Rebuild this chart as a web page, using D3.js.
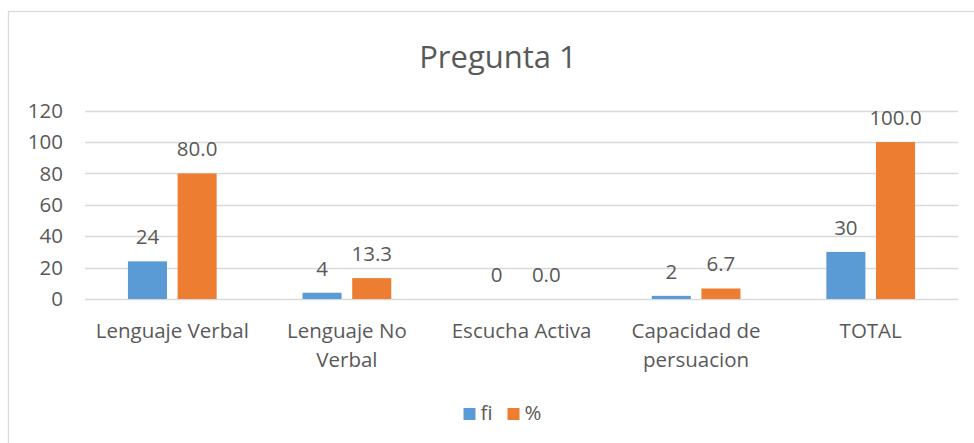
<!DOCTYPE html>
<html lang="es">
<head>
<meta charset="utf-8">
<title>Pregunta 1</title>
<script src="https://cdn.jsdelivr.net/npm/d3@7"></script>
<style>
  body { margin: 0; background: #fff; }
  text { font-family: "Open Sans", "Noto Sans", sans-serif; fill: #595959; }
</style>
</head>
<body>
<script>
// data
var categories = [["Lenguaje Verbal"], ["Lenguaje No", "Verbal"], ["Escucha Activa"], ["Capacidad de", "persuacion"], ["TOTAL"]];
var seriesNames = ["fi", "%"];
var fiValues = [24, 4, 0, 2, 30];
var pctValues = [80.0, 13.3, 0.0, 6.7, 100.0];
var yTicks = [0, 20, 40, 60, 80, 100, 120];
var colors = ["#5B9BD5", "#ED7D31"];

var w = 974, h = 443;
var plotLeft = 85, plotRight = 958, plotTop = 110.7, plotBottom = 299;
var fontSize = "20.5px";

var svg = d3.select("body").append("svg")
    .attr("width", w)
    .attr("height", h);

// chart frame
svg.append("rect")
    .attr("x", 8.5).attr("y", 11.5)
    .attr("width", w).attr("height", h)
    .attr("fill", "none")
    .attr("stroke", "#D9D9D9")
    .attr("stroke-width", 1.3);

// title
svg.append("text")
    .attr("x", 498).attr("y", 68)
    .attr("text-anchor", "middle")
    .style("font-size", "31px")
    .text("Pregunta 1");

var y = d3.scaleLinear().domain([0, 120]).range([plotBottom, plotTop]);
var x0 = d3.scaleBand().domain(d3.range(categories.length)).range([plotLeft, plotRight]).padding(0);
var bw = x0.bandwidth();
var x1 = d3.scaleBand().domain(seriesNames).range([bw * 0.246, bw * 0.754]).paddingInner(0.214);

// gridlines
svg.append("g").selectAll("line")
    .data(yTicks)
    .enter().append("line")
    .attr("x1", plotLeft).attr("x2", plotRight)
    .attr("y1", function(d) { return Math.round(y(d)) + 0.5; })
    .attr("y2", function(d) { return Math.round(y(d)) + 0.5; })
    .attr("stroke", "#D9D9D9")
    .attr("stroke-width", 1.3);

// y axis labels
var yAxis = d3.axisLeft(y).tickValues(yTicks).tickSize(0).tickPadding(0);
var yg = svg.append("g")
    .attr("transform", "translate(63,0)")
    .call(yAxis);
yg.select(".domain").remove();
yg.selectAll("text")
    .style("font-size", fontSize)
    .style("font-family", "'Open Sans', sans-serif")
    .attr("fill", "#595959");

// bars
var groups = svg.append("g").selectAll("g")
    .data(categories)
    .enter().append("g")
    .attr("transform", function(d, i) { return "translate(" + x0(i) + ",0)"; });

var seriesData = [fiValues, pctValues];

groups.selectAll("rect")
    .data(function(d, i) { return seriesNames.map(function(s, j) { return { s: s, j: j, v: seriesData[j][i] }; }); })
    .enter().append("rect")
    .attr("x", function(d) { return x1(d.s); })
    .attr("width", x1.bandwidth())
    .attr("y", function(d) { return y(d.v); })
    .attr("height", function(d) { return y(0) - y(d.v); })
    .attr("fill", function(d) { return colors[d.j]; });

// value labels
groups.selectAll("text.val")
    .data(function(d, i) { return seriesNames.map(function(s, j) { return { s: s, j: j, v: seriesData[j][i] }; }); })
    .enter().append("text")
    .attr("class", "val")
    .attr("x", function(d) { return x1(d.s) + x1.bandwidth() / 2; })
    .attr("y", function(d) { return y(d.v) - 17; })
    .attr("text-anchor", "middle")
    .style("font-size", fontSize)
    .text(function(d) { return d.j === 0 ? d3.format("d")(d.v) : d3.format(".1f")(d.v); });

// category labels
groups.append("text")
    .attr("x", bw / 2)
    .attr("y", 337.5)
    .attr("text-anchor", "middle")
    .style("font-size", fontSize)
    .selectAll("tspan")
    .data(function(d) { return d; })
    .enter().append("tspan")
    .attr("x", bw / 2)
    .attr("dy", function(d, i) { return i === 0 ? 0 : 29.4; })
    .text(function(d) { return d; });

// legend
var legendX = [463.5, 507.5];
var legend = svg.append("g").selectAll("g")
    .data(seriesNames)
    .enter().append("g")
    .attr("transform", function(d, i) { return "translate(" + legendX[i] + ",408)"; });
legend.append("rect")
    .attr("width", 12).attr("height", 12)
    .attr("fill", function(d, i) { return colors[i]; });
legend.append("text")
    .attr("x", 17).attr("y", 11.5)
    .style("font-size", fontSize)
    .text(function(d) { return d; });
</script>
</body>
</html>
